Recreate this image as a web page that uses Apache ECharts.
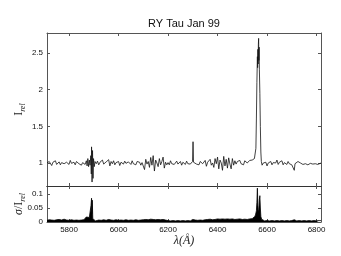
<!DOCTYPE html>
<html>
<head>
<meta charset="utf-8">
<script src="https://cdn.jsdelivr.net/npm/echarts@6/dist/echarts.min.js"></script>
<style>html,body{margin:0;padding:0;background:#fff;}#c{width:341px;height:256px;}</style>
</head>
<body>
<div id="c"></div>
<script>
// ---- data ----
const titleText = 'RY Tau Jan 99';
const xTicks = [5800, 6000, 6200, 6400, 6600, 6800];
const fluxTicks = [1, 1.5, 2, 2.5];
const sigmaTicks = [0, 0.05, 0.1];

// relative intensity spectrum [wavelength (Å), I_rel]
const spectrum = [
[5711,1.00],[5715,0.985],[5720,1.02],[5725,1.005],[5730,0.965],[5735,1.01],[5740,0.995],[5745,1.03],[5750,0.98],[5755,0.99],
[5760,1.015],[5765,0.975],[5770,1.005],[5775,1.025],[5780,0.99],[5785,0.97],[5790,1.01],[5795,1.00],[5800,0.98],[5805,1.035],
[5810,0.995],[5815,0.985],[5820,1.01],[5825,0.975],[5830,1.02],[5835,1.00],[5840,0.99],[5845,1.015],[5850,0.97],[5855,1.005],
[5860,1.03],[5865,0.98],
[5870,1.03],[5873,0.96],[5876,1.06],[5879,0.95],[5882,1.04],[5885,0.97],[5888,1.10],[5890,0.85],[5891,1.22],[5893,0.74],
[5895,1.17],[5897,0.79],[5899,1.06],[5902,0.95],[5905,1.02],
[5910,0.99],[5915,1.025],[5920,0.975],[5925,1.01],[5930,0.995],[5935,1.04],[5940,0.985],[5945,0.97],[5950,1.015],[5955,1.00],
[5960,1.045],[5965,0.96],[5970,1.02],[5975,0.99],[5980,1.03],[5985,0.975],[5990,1.005],[5995,0.985],[6000,1.02],[6005,0.965],
[6010,1.01],[6015,1.00],[6020,0.985],[6025,1.025],[6030,0.995],[6035,0.97],[6040,1.015],[6045,1.005],[6050,0.98],[6055,1.03],
[6060,0.99],[6065,1.00],[6070,0.975],[6075,1.02],[6080,0.995],[6085,1.01],[6090,0.97],[6095,1.005],
[6100,1.03],[6105,0.91],[6110,1.05],[6115,0.985],[6120,1.02],[6125,0.94],[6130,1.075],[6135,0.97],[6140,1.10],[6145,0.89],
[6150,1.04],[6155,1.00],[6160,0.95],[6165,1.06],[6170,0.975],[6175,1.02],[6180,1.08],[6185,0.93],[6190,1.01],[6195,0.975],
[6200,1.005],[6205,0.975],[6210,1.03],[6215,0.99],[6220,1.015],[6225,0.98],[6230,1.00],[6235,1.025],[6240,0.985],[6245,0.995],
[6250,1.02],[6255,0.97],[6260,1.01],[6265,1.00],[6270,0.98],[6275,1.025],[6280,0.99],[6285,1.005],[6290,0.985],[6295,1.01],
[6299,1.02],[6301,1.29],[6303,1.01],[6306,0.99],[6310,1.015],[6315,0.985],[6320,1.005],[6325,0.975],[6330,1.02],[6335,1.00],
[6340,0.99],[6345,1.015],
[6350,1.035],[6355,0.955],[6360,1.01],[6365,0.985],[6370,1.05],[6375,0.97],[6380,1.00],[6385,0.94],[6390,1.06],[6395,0.99],
[6400,1.08],[6405,0.92],[6410,1.04],[6415,1.00],[6420,0.90],[6425,1.09],[6430,0.96],[6435,1.05],[6440,0.93],[6445,1.07],
[6450,0.985],[6455,0.92],[6460,1.06],[6465,0.97],[6470,1.03],
[6475,0.985],[6480,1.02],[6485,1.00],[6490,1.035],[6495,0.99],[6500,1.01],[6505,0.975],[6510,1.03],[6515,1.015],[6520,1.00],
[6525,1.02],[6530,1.035],[6535,1.025],[6540,1.04],[6545,1.05],[6549,1.06],
[6552,1.07],[6555,1.20],[6557,1.60],[6559,2.10],[6561,2.45],[6562,2.30],[6563,2.55],[6564,2.35],[6565,2.62],[6566,2.70],
[6567,2.40],[6568,2.58],[6569,2.28],[6571,1.95],[6573,1.50],[6575,1.15],[6577,1.02],
[6580,0.97],[6585,1.00],[6590,0.985],[6595,1.01],[6600,0.96],[6605,1.00],[6610,0.995],[6615,1.02],[6620,0.975],[6625,1.005],
[6630,0.99],[6635,1.00],[6640,1.04],[6645,0.98],[6650,1.01],[6655,0.995],[6660,1.03],[6665,0.975],[6670,1.005],[6675,1.00],
[6680,0.98],[6685,1.02],[6690,0.99],[6695,1.01],[6700,0.975],[6705,1.00],[6710,0.90],[6713,0.99],[6716,1.01],[6720,0.98],
[6725,1.02],[6730,0.995],[6735,1.00],[6740,1.01],[6745,0.98],[6750,1.005],[6755,0.99],[6760,1.015],[6765,0.975],[6770,1.00],
[6775,0.995],[6780,1.01],[6785,0.985],[6790,1.005],[6795,0.99],[6800,1.01],[6805,0.98],[6810,1.00],[6815,0.995],[6818,1.00]
];

// relative error [wavelength (Å), sigma / I_rel]
const sigmaSpectrum = [
[5711,0.006],[5715,0.004],[5720,0.008],[5725,0.005],[5730,0.007],[5735,0.004],[5740,0.006],[5745,0.005],[5750,0.008],[5755,0.006],
[5760,0.009],[5765,0.005],[5770,0.007],[5775,0.006],[5780,0.010],[5785,0.005],[5790,0.007],[5795,0.004],[5800,0.006],[5805,0.005],
[5810,0.008],[5815,0.004],[5820,0.006],[5825,0.005],[5830,0.007],[5835,0.004],[5840,0.006],[5845,0.005],[5850,0.007],[5855,0.006],
[5860,0.008],[5865,0.012],[5870,0.018],[5874,0.014],[5878,0.022],[5882,0.016],[5885,0.020],[5887,0.012],[5889,0.060],[5891,0.085],
[5892,0.030],[5894,0.078],[5896,0.012],[5899,0.006],[5903,0.008],[5907,0.004],[5910,0.006],
[5915,0.005],[5920,0.007],[5925,0.004],[5930,0.006],[5935,0.005],[5940,0.008],[5945,0.004],[5950,0.006],[5955,0.005],[5960,0.009],
[5965,0.004],[5970,0.007],[5975,0.005],[5980,0.006],[5985,0.004],[5990,0.008],[5995,0.005],[6000,0.006],[6005,0.004],[6010,0.007],
[6015,0.005],[6020,0.006],[6025,0.004],[6030,0.008],[6035,0.005],[6040,0.006],[6045,0.004],[6050,0.007],[6055,0.005],[6060,0.006],
[6065,0.004],[6070,0.008],[6075,0.005],[6080,0.006],[6085,0.004],[6090,0.007],[6095,0.005],[6100,0.008],[6105,0.005],[6110,0.009],
[6115,0.006],[6120,0.008],[6125,0.005],[6130,0.010],[6135,0.006],[6140,0.009],[6145,0.005],[6150,0.008],[6155,0.006],[6160,0.009],
[6165,0.005],[6170,0.008],[6175,0.006],[6180,0.009],[6185,0.005],[6190,0.007],[6195,0.006],[6200,0.005],[6205,0.007],[6210,0.004],
[6215,0.006],[6220,0.005],[6225,0.008],[6230,0.004],[6235,0.006],[6240,0.005],[6245,0.007],[6250,0.004],[6255,0.006],[6260,0.005],
[6265,0.008],[6270,0.004],[6275,0.006],[6280,0.005],[6285,0.007],[6290,0.004],[6295,0.006],[6300,0.009],[6305,0.005],[6310,0.007],
[6315,0.004],[6320,0.006],[6325,0.005],[6330,0.007],[6335,0.004],[6340,0.006],[6345,0.005],[6350,0.008],[6355,0.006],[6360,0.009],
[6365,0.005],[6370,0.010],[6375,0.006],[6380,0.008],[6385,0.005],[6390,0.009],[6395,0.006],[6400,0.011],[6405,0.007],[6410,0.010],
[6415,0.006],[6420,0.011],[6425,0.007],[6430,0.010],[6435,0.006],[6440,0.011],[6445,0.007],[6450,0.010],[6455,0.006],[6460,0.011],
[6465,0.007],[6470,0.009],[6475,0.006],[6480,0.010],[6485,0.007],[6490,0.011],[6495,0.006],[6500,0.009],[6505,0.007],[6510,0.010],
[6515,0.006],[6520,0.009],[6525,0.007],[6530,0.011],[6535,0.008],[6540,0.012],[6545,0.010],
[6548,0.012],[6551,0.020],[6554,0.028],[6557,0.040],[6559,0.070],[6561,0.121],[6563,0.060],[6565,0.035],[6567,0.045],[6569,0.080],
[6571,0.094],[6573,0.050],[6575,0.020],[6578,0.010],[6581,0.005],
[6585,0.006],[6590,0.004],[6595,0.007],[6600,0.005],[6605,0.006],[6610,0.004],[6615,0.008],[6620,0.005],[6625,0.006],[6630,0.004],
[6635,0.007],[6640,0.005],[6645,0.006],[6650,0.004],[6655,0.008],[6660,0.005],[6665,0.006],[6670,0.004],[6675,0.007],[6680,0.005],
[6685,0.006],[6690,0.004],[6695,0.007],[6700,0.005],[6705,0.006],[6710,0.008],[6715,0.005],[6720,0.004],[6725,0.007],[6730,0.005],
[6735,0.006],[6740,0.004],[6745,0.007],[6750,0.005],[6755,0.006],[6760,0.004],[6765,0.007],[6770,0.005],[6775,0.006],[6780,0.004],
[6785,0.007],[6790,0.005],[6795,0.006],[6800,0.004],[6805,0.007],[6810,0.005],[6815,0.006],[6818,0.005]
];

// ---- chart ----
const X_MIN = 5711, X_MAX = 6818;
const F_MIN = 0.686, F_MAX = 2.773;
const S_MIN = 0, S_MAX = 0.1286;
const axisColor = '#555';
const sans = 'Liberation Sans, Arial, Helvetica, sans-serif';
const serif = 'Liberation Serif, Times New Roman, serif';
const plain = function (v) { return String(v); };

function xAx(grid, pos, labels, col) {
  return {
    type: 'value', gridIndex: grid, position: pos, min: X_MIN, max: X_MAX,
    axisLine: { show: true, onZero: false, lineStyle: { color: col || axisColor, width: 1 } },
    axisTick: { show: true, inside: true, length: 3, customValues: xTicks, lineStyle: { color: axisColor } },
    axisLabel: { show: labels, customValues: xTicks, formatter: plain, color: '#111', fontSize: 8, fontFamily: sans, margin: 4 },
    splitLine: { show: false }
  };
}
function yAx(grid, pos, min, max, ticks, labels, extra) {
  return Object.assign({
    type: 'value', gridIndex: grid, position: pos, min: min, max: max,
    axisLine: { show: true, onZero: false, lineStyle: { color: axisColor, width: 1 } },
    axisTick: { show: true, inside: true, length: 3, customValues: ticks, lineStyle: { color: axisColor } },
    axisLabel: { show: labels, customValues: ticks, formatter: plain, color: '#111', fontSize: 8, fontFamily: sans, margin: 4 },
    splitLine: { show: false }
  }, extra || {});
}

const chart = echarts.init(document.getElementById('c'), null, { renderer: 'canvas', width: 341, height: 256 });
chart.setOption({
  animation: false,
  backgroundColor: '#fff',
  title: {
    text: titleText, left: 148, top: 18, padding: 0,
    textStyle: { fontSize: 11, fontWeight: 'normal', fontFamily: sans, color: '#111' }
  },
  grid: [
    { left: 47, top: 33, width: 274, height: 153 },
    { left: 47, top: 186, width: 274, height: 36 }
  ],
  xAxis: [
    xAx(0, 'bottom', false, '#333'),
    xAx(0, 'top', false),
    Object.assign(xAx(1, 'bottom', true), {
      name: 'λ(Å)', nameLocation: 'middle', nameGap: 13, nameMoveOverlap: false,
      nameTextStyle: { fontFamily: serif, fontSize: 12, fontStyle: 'italic', color: '#222' }
    }),
    xAx(1, 'top', false, '#333')
  ],
  yAxis: [
    yAx(0, 'left', F_MIN, F_MAX, fluxTicks, true, {
      name: '{i|I}{s|rel}', nameLocation: 'middle', nameGap: 20, nameMoveOverlap: false,
      nameTextStyle: { rich: {
        i: { fontFamily: serif, fontSize: 12, color: '#222', verticalAlign: 'middle' },
        s: { fontFamily: serif, fontSize: 8, fontStyle: 'italic', color: '#222', verticalAlign: 'bottom', lineHeight: 17 }
      } }
    }),
    yAx(0, 'right', F_MIN, F_MAX, fluxTicks, false),
    yAx(1, 'left', S_MIN, S_MAX, sigmaTicks, true, {
      name: '{g|σ}{t|/}{i|I}{s|rel}', nameLocation: 'middle', nameGap: 20, nameMoveOverlap: false,
      nameTextStyle: { rich: {
        g: { fontFamily: serif, fontSize: 12, fontStyle: 'italic', color: '#222', verticalAlign: 'middle' },
        t: { fontFamily: serif, fontSize: 12, color: '#222', verticalAlign: 'middle' },
        i: { fontFamily: serif, fontSize: 12, color: '#222', verticalAlign: 'middle' },
        s: { fontFamily: serif, fontSize: 8, fontStyle: 'italic', color: '#222', verticalAlign: 'bottom', lineHeight: 17 }
      } }
    }),
    yAx(1, 'right', S_MIN, S_MAX, sigmaTicks, false)
  ],
  series: [
    {
      type: 'line', xAxisIndex: 0, yAxisIndex: 0, data: spectrum,
      symbol: 'none', clip: true,
      lineStyle: { color: '#111', width: 0.8 }
    },
    {
      type: 'line', xAxisIndex: 2, yAxisIndex: 2, data: sigmaSpectrum,
      symbol: 'none', clip: true,
      lineStyle: { color: '#000', width: 0.8 },
      areaStyle: { color: '#000', opacity: 1 }
    }
  ]
});
</script>
</body>
</html>
